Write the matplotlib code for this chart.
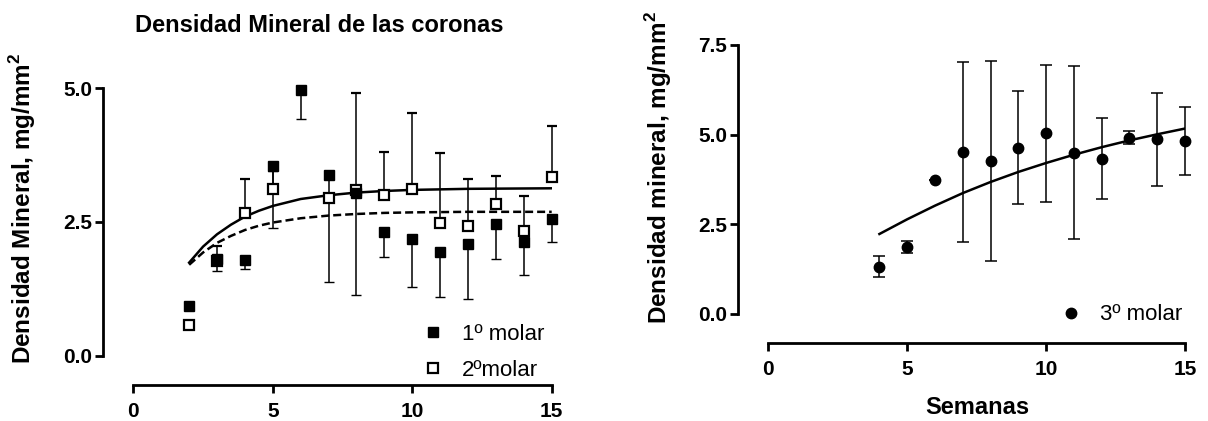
import matplotlib
matplotlib.use('Agg')
import matplotlib.pyplot as plt
from matplotlib.lines import Line2D

plt.rcParams['font.family'] = ['Liberation Sans', 'DejaVu Sans']
plt.rcParams['mathtext.fontset'] = 'custom'
plt.rcParams['mathtext.rm'] = 'Liberation Sans'
plt.rcParams['mathtext.bf'] = 'Liberation Sans:bold'

# ---- Left panel data (coronas) ----
weeks1 = [2, 3, 4, 5, 6, 7, 8, 9, 10, 11, 12, 13, 14, 15]
molar1 = [0.93, 1.80, 1.79, 3.55, 4.96, 3.38, 3.04, 2.31, 2.19, 1.93, 2.08, 2.46, 2.13, 2.55]
molar1_err_low = [0.0, 0.22, 0.16, 1.17, 0.53, 2.00, 1.90, 0.46, 0.90, 0.83, 1.02, 0.65, 0.62, 0.42]

weeks2 = [2, 3, 4, 5, 7, 8, 9, 10, 11, 12, 13, 14, 15]
molar2 = [0.57, 1.77, 2.67, 3.11, 2.95, 3.09, 3.00, 3.11, 2.48, 2.43, 2.83, 2.34, 3.35]
molar2_err_up = [0.0, 0.28, 0.63, 0.35, 0.0, 1.82, 0.81, 1.43, 1.31, 0.87, 0.53, 0.65, 0.94]

fit_x = [2, 2.5, 3, 3.5, 4, 4.5, 5, 6, 7, 8, 9, 10, 12, 15]
fit1_dashed = [1.70, 1.93, 2.11, 2.24, 2.35, 2.43, 2.49, 2.57, 2.62, 2.65, 2.67, 2.68, 2.69, 2.69]
fit2_solid = [1.74, 2.04, 2.27, 2.45, 2.60, 2.71, 2.80, 2.93, 3.00, 3.05, 3.08, 3.10, 3.12, 3.13]

# ---- Right panel data (3º molar) ----
weeks3 = [4, 5, 6, 7, 8, 9, 10, 11, 12, 13, 14, 15]
molar3 = [1.32, 1.86, 3.74, 4.52, 4.27, 4.64, 5.04, 4.50, 4.33, 4.92, 4.87, 4.82]
molar3_err = [0.29, 0.17, 0.0, 2.50, 2.78, 1.58, 1.91, 2.40, 1.12, 0.18, 1.30, 0.95]
fit3_x = [4, 5, 6, 7, 8, 9, 10, 11, 12, 13, 14, 15]
fit3 = [2.23, 2.64, 3.02, 3.37, 3.68, 3.96, 4.21, 4.44, 4.65, 4.84, 5.01, 5.17]

left_yticks = [0.0, 2.5, 5.0]
right_yticks = [0.0, 2.5, 5.0, 7.5]
xticks = [0, 5, 10, 15]

fig = plt.figure(figsize=(12.08, 4.21), dpi=100)
ax1 = fig.add_axes([0.1104, 0.1551, 0.3463, 0.6352])
ax2 = fig.add_axes([0.6360, 0.2542, 0.3450, 0.6390])

def style(ax, ylim, yticks):
    ax.set_xlim(0, 15)
    ax.set_ylim(*ylim)
    ax.set_xticks(xticks)
    ax.set_yticks(yticks)
    ax.set_yticklabels([f'{v:.1f}' for v in yticks])
    for s in ['top', 'right']:
        ax.spines[s].set_visible(False)
    ax.spines['left'].set_position(('outward', 21.6))
    ax.spines['bottom'].set_position(('outward', 21.1))
    for s in ['left', 'bottom']:
        ax.spines[s].set_linewidth(2.0)
    ax.tick_params(direction='out', length=5.8, width=2.0, labelsize=15)
    ax.tick_params(axis='y', pad=2)
    ax.tick_params(axis='x', pad=6.5)
    for lab in ax.get_xticklabels() + ax.get_yticklabels():
        lab.set_fontweight('bold')

style(ax1, (0, 5), left_yticks)
style(ax2, (0, 7.5), right_yticks)

# Left: fits
ax1.plot(fit_x, fit2_solid, color='black', lw=1.8, zorder=1)
ax1.plot(fit_x, fit1_dashed, color='black', lw=1.8, ls=(0, (3.2, 1.6)), zorder=1)

# 2º molar (open squares, error up)
e2 = ax1.errorbar(weeks2, molar2, yerr=[[0]*len(molar2_err_up), molar2_err_up],
                  fmt='s', ms=7, mfc='white', mec='black', mew=1.6,
                  ecolor='black', elinewidth=1.1, capsize=3.6, capthick=1.1,
                  clip_on=False)
# 1º molar (filled squares, error down)
e1 = ax1.errorbar(weeks1, molar1, yerr=[molar1_err_low, [0]*len(molar1_err_low)],
                  fmt='s', ms=7, mfc='black', mec='black', mew=1.0,
                  ecolor='black', elinewidth=1.1, capsize=3.6, capthick=1.1,
                  clip_on=False)
for cont in (e1, e2):
    for art in cont.lines[1] + cont.lines[2]:
        art.set_clip_on(False)

ax1.set_ylabel('Densidad Mineral, mg/mm$^{\\mathbf{2}}$', fontsize=17.5, fontweight='bold')
ax1.yaxis.set_label_coords(-0.228, 0.55)

h1 = Line2D([], [], ls='none', marker='s', ms=7, mfc='black', mec='black')
h2 = Line2D([], [], ls='none', marker='s', ms=7, mfc='white', mec='black', mew=1.6)
ax1.legend([h1, h2], ['1º molar', '2ºmolar'], loc='upper left',
           bbox_to_anchor=(421.9 / 1208, 1 - 323.7 / 421), bbox_transform=fig.transFigure,
           frameon=False, borderpad=0, borderaxespad=0, handlelength=1.0,
           handletextpad=0.79, labelspacing=0.7, fontsize=16)

fig.text(319 / 1208, 1 - 32 / 421, 'Densidad Mineral de las coronas', ha='center',
         va='baseline', fontsize=17, fontweight='bold')

# Right panel
ax2.plot(fit3_x, fit3, color='black', lw=1.8, zorder=1)
e3 = ax2.errorbar(weeks3, molar3, yerr=molar3_err, fmt='o', ms=7.5, mfc='black',
                  mec='black', ecolor='black', elinewidth=1.1, capsize=4.3,
                  capthick=1.1, clip_on=False)
ax2.set_ylabel('Densidad mineral, mg/mm$^{\\mathbf{2}}$', fontsize=17.5, fontweight='bold')
ax2.yaxis.set_label_coords(-0.226, 0.546)
ax2.set_xlabel('Semanas', fontsize=17, fontweight='bold')
ax2.xaxis.set_label_coords(0.501, -0.305)

h3 = Line2D([], [], ls='none', marker='o', ms=7.5, mfc='black', mec='black')
ax2.legend([h3], ['3º molar'], loc='upper left',
           bbox_to_anchor=(1059.9 / 1208, 1 - 304.3 / 421), bbox_transform=fig.transFigure,
           frameon=False, borderpad=0, borderaxespad=0, handlelength=1.0,
           handletextpad=0.79, fontsize=16)

fig.savefig('out.png', dpi=100)
